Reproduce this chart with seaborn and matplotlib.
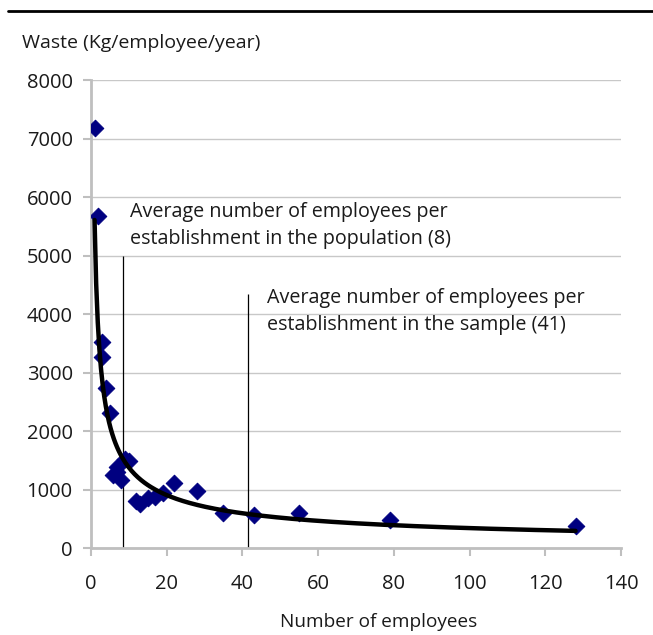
import numpy as np
import pandas as pd
import matplotlib.pyplot as plt
import seaborn as sns
from matplotlib.lines import Line2D

# employees per establishment vs waste per employee
employees = [1, 2, 3, 3, 4, 5, 6, 7, 7, 8, 9, 10, 12, 13, 15, 17, 19, 22, 28, 35, 43, 55, 79, 128]
waste = [7180, 5680, 3530, 3270, 2730, 2300, 1240, 1390, 1300, 1160, 1520, 1490,
         810, 760, 850, 880, 940, 1110, 980, 600, 570, 590, 480, 370]

pop_avg_x = 8.5
sample_avg_x = 41.6
pop_line_top = 5000
sample_line_top = 4350

df = pd.DataFrame({"employees": employees, "waste": waste})

# power trendline fitted on the points (like excel)
b, loga = np.polyfit(np.log(df["employees"]), np.log(df["waste"]), 1)
xs = np.linspace(1, 128, 300)
trend = pd.DataFrame({"x": xs, "y": np.exp(loga) * xs ** b})

sns.set_theme(style="white")
plt.rcParams["font.family"] = ["Open Sans", "DejaVu Sans"]

fig = plt.figure(figsize=(6.53, 6.35), dpi=100)
ax = fig.add_axes([0.139, 0.137, 0.812, 0.737])

ax.grid(axis="y", color="#c8c8c8", linewidth=1)
ax.set_axisbelow(True)

sns.scatterplot(data=df, x="employees", y="waste", marker="D", s=72,
                color="#000080", edgecolor="#000080", ax=ax, zorder=3)
sns.lineplot(data=trend, x="x", y="y", color="black", linewidth=3.2, ax=ax, zorder=4)

ax.vlines(pop_avg_x, 0, pop_line_top, color="black", linewidth=0.9, zorder=2)
ax.vlines(sample_avg_x, 0, sample_line_top, color="black", linewidth=0.9, zorder=2)

ax.text(10.3, 5920, "Average number of employees per\nestablishment in the population (8)",
        fontsize=14.2, va="top", ha="left", linespacing=1.5, color="#1a1a1a")
ax.text(46.5, 4445, "Average number of employees per\nestablishment in the sample (41)",
        fontsize=14.2, va="top", ha="left", linespacing=1.5, color="#1a1a1a")

ax.set_xlim(0, 140)
ax.set_ylim(0, 8000)
ax.set_xticks(range(0, 141, 20))
ax.set_yticks(range(0, 8001, 1000))
ax.set_xlabel("")
ax.set_ylabel("")

for s in ["top", "right"]:
    ax.spines[s].set_visible(False)
for s in ["left", "bottom"]:
    ax.spines[s].set_color("#bfbfbf")
    ax.spines[s].set_linewidth(2)
ax.tick_params(axis="both", length=6, width=1.5, color="#bfbfbf", labelsize=14.5,
               labelcolor="#1a1a1a", direction="out", bottom=True, left=True)
ax.tick_params(axis="x", pad=13)
ax.tick_params(axis="y", pad=7)

fig.text(22 / 653, 1 - 43 / 635, "Waste (Kg/employee/year)", fontsize=14,
         va="center", ha="left", color="#1a1a1a")
fig.text(379 / 653, 1 - 622 / 635, "Number of employees", fontsize=13.7,
         va="center", ha="center", color="#1a1a1a")

fig.add_artist(Line2D([8 / 653, 1], [1 - 11 / 635, 1 - 11 / 635], color="black",
                      linewidth=2, transform=fig.transFigure))

fig.savefig("out.png", dpi=100)
